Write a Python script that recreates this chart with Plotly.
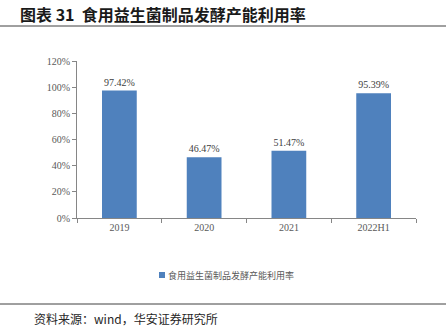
import plotly.graph_objects as go

# Fermentation capacity utilisation of probiotic food products
categories = ["2019", "2020", "2021", "2022H1"]
utilization = [97.42, 46.47, 51.47, 95.39]
y_ticks = [0, 20, 40, 60, 80, 100, 120]
y_tick_labels = [f"{v}%" for v in y_ticks]
series_name = "食用益生菌制品发酵产能利用率"
title_text = "图表 31  食用益生菌制品发酵产能利用率"
source_text = "资料来源：wind，华安证券研究所"

W, H = 448, 331
L, R, T, B = 77, 32, 61, 113
plot_w = W - L - R
plot_h = H - T - B
bar_color = "#4f81bd"


def px_x(px):
    return (px - L) / plot_w


def px_y(py):
    return (H - B - py) / plot_h


serif = "Liberation Serif, Times New Roman, serif"
cjk = "Noto Sans CJK SC, sans-serif"

fig = go.Figure()
fig.add_trace(go.Bar(
    x=categories,
    y=utilization,
    name=series_name,
    marker=dict(color=bar_color, line=dict(width=0)),
    width=0.41,
    text=[f"{v:.2f}%" for v in utilization],
    textposition="outside",
    textfont=dict(family=serif, size=10, color="#404040"),
    cliponaxis=False,
    showlegend=False,
))

fig.update_layout(
    width=W, height=H,
    margin=dict(l=L, r=R, t=T, b=B),
    paper_bgcolor="white",
    plot_bgcolor="white",
    showlegend=False,
    xaxis=dict(
        type="category", range=[-0.5, 3.5],
        showline=True, linecolor="#868686", linewidth=1,
        ticks="outside", tickson="boundaries", ticklen=4, tickcolor="#868686",
        tickfont=dict(family=serif, size=10, color="#595959"),
        showgrid=False, fixedrange=True,
    ),
    yaxis=dict(
        range=[0, 120], tickvals=y_ticks, ticktext=y_tick_labels,
        showline=True, linecolor="#868686", linewidth=1,
        ticks="outside", ticklen=4, tickcolor="#868686",
        tickfont=dict(family=serif, size=10, color="#595959"),
        showgrid=False, zeroline=False, fixedrange=True,
    ),
    shapes=[
        dict(type="line", xref="paper", yref="paper",
             x0=px_x(0), x1=px_x(446), y0=px_y(26), y1=px_y(26),
             line=dict(color="#404040", width=1)),
        dict(type="line", xref="paper", yref="paper",
             x0=px_x(0), x1=px_x(446), y0=px_y(304), y1=px_y(304),
             line=dict(color="#404040", width=1)),
        # legend swatch
        dict(type="rect", xref="paper", yref="paper",
             x0=px_x(159), x1=px_x(165), y0=px_y(278), y1=px_y(272),
             fillcolor=bar_color, line=dict(width=0)),
    ],
    annotations=[
        dict(text=f"<b>{title_text}</b>", xref="paper", yref="paper",
             x=px_x(18), y=px_y(14), xanchor="left", yanchor="middle",
             showarrow=False, font=dict(family=cjk, size=16, color="#1a1a1a")),
        dict(text=series_name, xref="paper", yref="paper",
             x=px_x(166), y=px_y(275), xanchor="left", yanchor="middle",
             showarrow=False, font=dict(family=cjk, size=9, color="#595959")),
        dict(text=source_text, xref="paper", yref="paper",
             x=px_x(32), y=px_y(318), xanchor="left", yanchor="middle",
             showarrow=False, font=dict(family=cjk, size=12, color="#262626")),
    ],
)

fig.write_html("out.html")
